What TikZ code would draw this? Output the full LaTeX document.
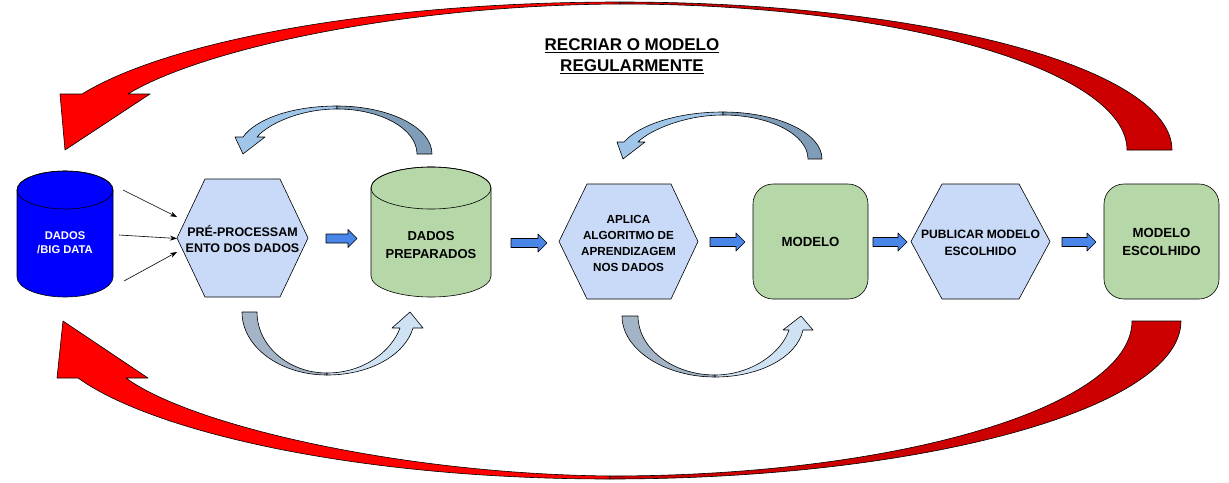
\documentclass[tikz,border=0pt]{standalone}
\usepackage{fontspec}
\setmainfont{Liberation Sans}
\usetikzlibrary{arrows.meta}
\definecolor{cylblue}{HTML}{0000FF}
\definecolor{hexblue}{HTML}{C9DAF8}
\definecolor{boxgreen}{HTML}{B6D7A8}
\definecolor{arrowblue}{HTML}{4A86E8}
\definecolor{redA}{HTML}{FF0000}
\definecolor{redB}{HTML}{CC0000}
\definecolor{loopHead}{HTML}{9FC5E8}
\definecolor{loopTail}{HTML}{7F9DB9}
\definecolor{uTail}{HTML}{A2B4C6}
\definecolor{uHead}{HTML}{CFE2F3}
\tikzset{
  outline/.style={draw=black, line width=0.6pt},
  lbl/.style={align=center, inner sep=0pt, font=\bfseries\fontsize{13}{18}\selectfont},
  blockarrow/.style={outline, fill=arrowblue},
  roundbox/.style={outline, fill=boxgreen, rounded corners=20pt, minimum width=115pt,
    minimum height=115pt, inner sep=0pt, align=center, font=\bfseries\fontsize{13.2}{18}\selectfont},
  thinarrow/.style={draw=black, line width=0.6pt, -{Stealth[length=7pt,width=5pt]}}
}
% block arrow from x1 to x2 at height y
\newcommand{\myblockarrow}[3]{%
  \filldraw[blockarrow] (#1,#3-4.5) -- (#2-9,#3-4.5) -- (#2-9,#3-9) -- (#2,#3)
    -- (#2-9,#3+9) -- (#2-9,#3+4.5) -- (#1,#3+4.5) -- cycle;}
\begin{document}
\begin{tikzpicture}[x=1pt,y=-1pt,line join=round]
\useasboundingbox (0,0) rectangle (1229,482);
\fill[white] (0,0) rectangle (1229,482);

% ---- big red arrow, top ----
\filldraw[outline, fill=redA] (620,2) .. controls (380,2) and (170,40) .. (82,94)
  -- (60,94) -- (65,150) -- (150,94) -- (128,94)
  .. controls (200,50) and (400,5) .. (620,4) -- cycle;
\filldraw[outline, fill=redB] (620,2) .. controls (925,2) and (1172,68) .. (1172,150)
  -- (1127,150) .. controls (1127,70.5) and (900,4) .. (620,4) -- cycle;

% ---- big red arrow, bottom ----
\filldraw[outline, fill=redA] (610,479) .. controls (350,479) and (150,430) .. (78,378)
  -- (57,378) -- (63,321) -- (148,378) -- (126,378)
  .. controls (190,425) and (400,474) .. (610,476) -- cycle;
\filldraw[outline, fill=redB] (610,479) .. controls (925,479) and (1181,408) .. (1181,321)
  -- (1132,321) .. controls (1132,406.6) and (898,476) .. (610,476) -- cycle;

% ---- title ----
\node[align=center, inner sep=0pt, font=\bfseries\fontsize{17}{21}\selectfont] (title) at (632,56)
  {\underline{RECRIAR O MODELO}\\\underline{REGULARMENTE}};

% ---- small loop arrows (top) ----
\filldraw[outline, fill=loopHead] (337,106) .. controls (290,106) and (255,120) .. (243,137)
  -- (235,137) -- (243,154) -- (265,137) -- (257,137)
  .. controls (268,124) and (300,109) .. (337,109) -- cycle;
\filldraw[outline, fill=loopTail] (337,106) .. controls (389.4,106) and (432,127.5) .. (432,154)
  -- (417,154) .. controls (417,129) and (381,109) .. (337,109) -- cycle;

\filldraw[outline, fill=loopHead] (723,112) .. controls (675,112) and (638,126) .. (624,142)
  -- (617,142) -- (623,159) -- (645,142) -- (638,142)
  .. controls (650,130) and (685,115) .. (723,115) -- cycle;
\filldraw[outline, fill=loopTail] (723,112) .. controls (777.6,112) and (822,133) .. (822,159)
  -- (808,159) .. controls (808,134.7) and (770,115) .. (723,115) -- cycle;

% ---- small U arrows (bottom) ----
\filldraw[outline, fill=uTail] (242,312) .. controls (242,346.8) and (280,375) .. (327,375)
  -- (327,373) .. controls (288.4,373) and (257,345.7) .. (257,312) -- cycle;
\filldraw[outline, fill=uHead] (327,375) .. controls (370,375) and (405,355) .. (413,328)
  -- (423,328) -- (410,312) -- (392,328) -- (400,328)
  .. controls (392,350) and (365,373) .. (327,373) -- cycle;

\filldraw[outline, fill=uTail] (622,316) .. controls (622,349) and (664,377) .. (715,377)
  -- (715,375) .. controls (672.5,375) and (638,348) .. (638,316) -- cycle;
\filldraw[outline, fill=uHead] (715,377) .. controls (760,377) and (797,357) .. (803,330)
  -- (813,330) -- (801,316) -- (783,330) -- (789,330)
  .. controls (782,352) and (752,375) .. (715,375) -- cycle;

% ---- blue cylinder ----
\filldraw[outline, fill=cylblue] (17,190) -- (17,277) arc[start angle=180, end angle=360, x radius=48pt, y radius=20pt]
  -- (113,190) arc[start angle=0, end angle=180, x radius=48pt, y radius=19pt] -- cycle;
\draw[outline] (65,190) ellipse[x radius=48pt, y radius=19pt];
\node[align=center, inner sep=0pt, text=white, font=\bfseries\fontsize{11.2}{14}\selectfont] (bigdata) at (65,243)
  {DADOS\\/BIG DATA};

% ---- green cylinder ----
\filldraw[outline, fill=boxgreen] (371,188) -- (371,276) arc[start angle=180, end angle=360, x radius=60pt, y radius=21pt]
  -- (491,188) arc[start angle=0, end angle=180, x radius=60pt, y radius=21pt] -- cycle;
\draw[outline] (431,188) ellipse[x radius=60pt, y radius=21pt];
\node[lbl] (preparados) at (431,245) {DADOS\\PREPARADOS};

% ---- hexagons ----
\filldraw[outline, fill=hexblue] (177,238) -- (205,179) -- (280,179) -- (308,238) -- (280,297) -- (205,297) -- cycle;
\node[align=center, inner sep=0pt, font=\bfseries\fontsize{12.5}{16}\selectfont] (preproc) at (242.5,239)
  {PRÉ-PROCESSAM\\ENTO DOS DADOS};

\filldraw[outline, fill=hexblue] (559,241.5) -- (587,184) -- (671,184) -- (698,241.5) -- (671,299) -- (587,299) -- cycle;
\node[align=center, inner sep=0pt, font=\bfseries\fontsize{11.7}{16}\selectfont] (aplica) at (628.5,243)
  {APLICA\\ALGORITMO DE\\APRENDIZAGEM\\NOS DADOS};

\filldraw[outline, fill=hexblue] (911,241.5) -- (942,184) -- (1019,184) -- (1050,241.5) -- (1019,299) -- (942,299) -- cycle;
\node[align=center, inner sep=0pt, font=\bfseries\fontsize{12.1}{17}\selectfont] (publicar) at (980.5,242.5)
  {PUBLICAR MODELO\\ESCOLHIDO};

% ---- rounded boxes ----
\node[roundbox] (modelo) at (810.5,241.5) {MODELO};
\node[roundbox] (escolhido) at (1161.5,241.5) {MODELO\\ESCOLHIDO};

% ---- block arrows ----
\myblockarrow{326}{357}{238.5}
\myblockarrow{511}{547}{243}
\myblockarrow{710}{745}{242}
\myblockarrow{873}{907}{242}
\myblockarrow{1062}{1096}{242}

% ---- thin arrows from data to preprocessing ----
\coordinate (s1) at (123,190); \coordinate (e1) at (177,217);
\coordinate (s2) at (119,235); \coordinate (e2) at (177,238.5);
\coordinate (s3) at (124,281); \coordinate (e3) at (177,252);
\draw[thinarrow] (s1) -- (e1);
\draw[thinarrow] (s2) -- (e2);
\draw[thinarrow] (s3) -- (e3);
\end{tikzpicture}
\end{document}
